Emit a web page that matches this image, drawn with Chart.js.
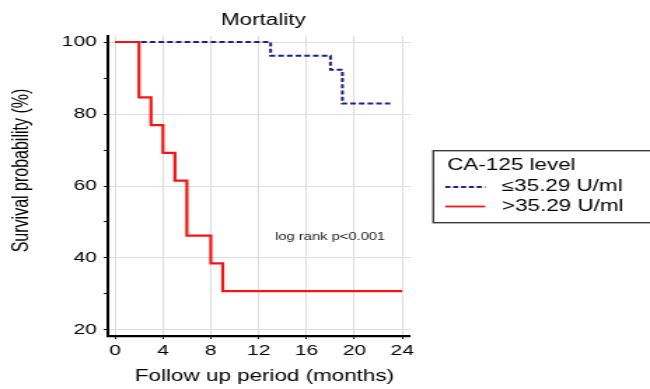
<!DOCTYPE html>
<html>
<head>
<meta charset="utf-8">
<script src="https://cdn.jsdelivr.net/npm/chart.js@4"></script>
<style>
  html, body { margin: 0; padding: 0; background: #fff; overflow: hidden; }
  #wrap { position: absolute; left: 0; top: 0; width: 464px; height: 389px;
          transform: scaleX(1.40086); transform-origin: 0 0; }
</style>
</head>
<body>
<div id="wrap"><canvas id="c"></canvas></div>
<script>
// ---- data ----
const chartTitle = 'Mortality';
const xTitle = 'Follow up period (months)';
const yTitle = 'Survival probability (%)';
const legendTitle = 'CA-125 level';
const seriesLabels = ['≤35.29 U/ml', '>35.29 U/ml'];
const annotation = 'log rank p<0.001';

const lowTimes = [0, 13, 18, 19, 23];
const lowSurvival = [100, 96.2, 92.3, 82.9, 82.9];
const highTimes = [0, 2, 3, 4, 5, 6, 8, 9, 24];
const highSurvival = [100, 84.6, 76.9, 69.2, 61.5, 46.2, 38.5, 30.8, 30.8];

const xTicks = [0, 4, 8, 12, 16, 20, 24];
const yTicks = [20, 30, 40, 50, 60, 70, 80, 90, 100];
const yLabelled = [20, 40, 60, 80, 100];

const FONT = '"Liberation Sans", Arial, Helvetica, sans-serif';
const BLUE = '#1c1c8a';
const RED = '#f41414';

const toPts = (xs, ys) => xs.map((x, i) => ({ x: x, y: ys[i] }));

const textPlugin = {
  id: 'texts',
  afterDraw(chart) {
    const ctx = chart.ctx;
    ctx.save();
    ctx.fillStyle = '#000';
    // title
    ctx.font = '16px ' + FONT;
    ctx.textAlign = 'center';
    ctx.textBaseline = 'middle';
    ctx.fillText(chartTitle, 188, 21);
    // x title
    ctx.fillText(xTitle, 188.8, 377);
    // y title
    ctx.save();
    ctx.translate(15.7, 170.5);
    ctx.rotate(-Math.PI / 2);
    ctx.fillText(yTitle, 0, 0);
    ctx.restore();
    // annotation
    ctx.font = '10.5px ' + FONT;
    ctx.textAlign = 'left';
    ctx.fillStyle = '#1a1a1a';
    ctx.fillText(annotation, 196.4, 237);
    // legend box
    ctx.strokeStyle = '#3a3a3a';
    ctx.lineWidth = 1.4;
    ctx.strokeRect(309.3, 150.7, 170, 72);
    ctx.fillStyle = '#000';
    ctx.font = '16px ' + FONT;
    ctx.fillText(legendTitle, 319.3, 166);
    ctx.fillText(seriesLabels[0], 358.3, 187);
    ctx.fillText(seriesLabels[1], 358.3, 206.5);
    ctx.lineWidth = 1.8;
    ctx.strokeStyle = BLUE;
    ctx.setLineDash([3.6, 2]);
    ctx.beginPath(); ctx.moveTo(317.9, 187); ctx.lineTo(346.4, 187); ctx.stroke();
    ctx.setLineDash([]);
    ctx.strokeStyle = RED;
    ctx.beginPath(); ctx.moveTo(317.9, 206.5); ctx.lineTo(346.4, 206.5); ctx.stroke();
    ctx.restore();
  }
};

new Chart(document.getElementById('c'), {
  type: 'line',
  data: {
    datasets: [
      { label: seriesLabels[0], data: toPts(lowTimes, lowSurvival), borderColor: BLUE,
        borderWidth: 2, borderDash: [4, 2.2], stepped: true, pointRadius: 0, order: 1, clip: false },
      { label: seriesLabels[1], data: toPts(highTimes, highSurvival), borderColor: RED,
        borderWidth: 2.2, stepped: true, pointRadius: 0, order: 0, clip: false }
    ]
  },
  options: {
    responsive: true,
    maintainAspectRatio: false,
    animation: false,
    devicePixelRatio: 1,
    layout: { padding: { left: 0, top: 36, right: 171.14, bottom: 0 } },
    plugins: { legend: { display: false }, tooltip: { enabled: false }, title: { display: false } },
    scales: {
      x: {
        type: 'linear', min: -0.585, max: 24.67,
        afterBuildTicks: s => { s.ticks = xTicks.map(v => ({ value: v })); },
        afterFit: s => { s.height = 53; },
        ticks: { font: { family: FONT, size: 15 }, color: '#000', padding: 3, maxRotation: 0 },
        grid: { color: '#dedede', lineWidth: 1, tickColor: '#000', tickLength: 3 },
        border: { display: true, color: '#000', width: 2.3 }
      },
      y: {
        type: 'linear', min: 18.333, max: 101.667,
        afterBuildTicks: s => { s.ticks = yTicks.map(v => ({ value: v })); },
        afterFit: s => { s.width = 77.14; },
        ticks: { font: { family: FONT, size: 15 }, color: '#000', padding: 5,
                 callback: v => yLabelled.includes(v) ? String(v) : '' },
        grid: { color: c => (c.tick && yLabelled.includes(c.tick.value)) ? '#dedede' : 'rgba(0,0,0,0)',
                lineWidth: 1, tickColor: '#000', tickLength: 3 },
        border: { display: true, color: '#000', width: 2 }
      }
    }
  },
  plugins: [textPlugin]
});
</script>
</body>
</html>
